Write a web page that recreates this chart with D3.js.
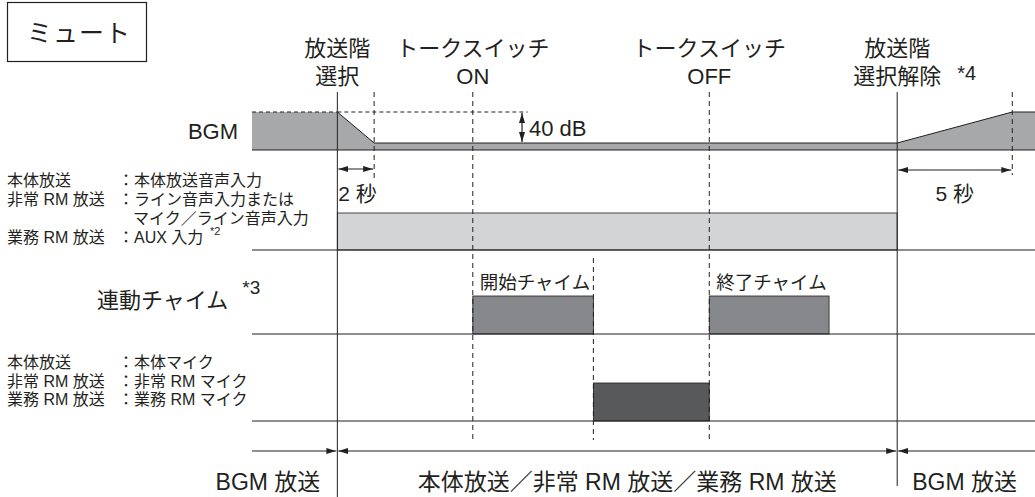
<!DOCTYPE html>
<html>
<head>
<meta charset="utf-8">
<script src="https://cdn.jsdelivr.net/npm/d3@7"></script>
<style>
  body { margin: 0; background: #fff; }
  svg text { font-family: "Liberation Sans", "Noto Sans CJK JP", sans-serif; fill: #231f20; }
</style>
</head>
<body>
<div id="chart"></div>
<script>
// timing points (arbitrary time units, 0..100 across the diagram)
var tSelect = 10.9, tFadeEnd = 15.6, tOn = 28.2, tStartChimeEnd = 43.6;
var tOff = 58.4, tEndChimeEnd = 73.7, tRelease = 82.4, tFadeUpEnd = 97.1;

// BGM level in dB
var bgmLevel = [
  { t: 0, db: 0 }, { t: tSelect, db: 0 }, { t: tFadeEnd, db: -40 },
  { t: tRelease, db: -40 }, { t: tFadeUpEnd, db: 0 }, { t: 100, db: 0 }
];
var inputSpan = [tSelect, tRelease];
var chimes = [
  { label: "開始チャイム", start: tOn, end: tStartChimeEnd },
  { label: "終了チャイム", start: tOff, end: tEndChimeEnd }
];
var micSpan = [tStartChimeEnd, tOff];

var inputLabels = [
  ["本体放送", "：本体放送音声入力"],
  ["非常 RM 放送", "：ライン音声入力または"],
  ["", "マイク／ライン音声入力"],
  ["業務 RM 放送", "：AUX 入力"]
];
var micLabels = [
  ["本体放送", "：本体マイク"],
  ["非常 RM 放送", "：非常 RM マイク"],
  ["業務 RM 放送", "：業務 RM マイク"]
];
var headings = [
  { t: tSelect, lines: ["放送階", "選択"] },
  { t: tOn, lines: ["トークスイッチ", "ON"] },
  { t: tOff, lines: ["トークスイッチ", "OFF"] },
  { t: tRelease, lines: ["放送階", "選択解除"], note: "*4" }
];
var phases = [
  { label: "BGM 放送", from: 0, to: tSelect },
  { label: "本体放送／非常 RM 放送／業務 RM 放送", from: tSelect, to: tRelease },
  { label: "BGM 放送", from: tRelease, to: 100 }
];

var W = 1035, H = 497;
var ink = "#231f20";
var svg = d3.select("#chart").append("svg").attr("width", W).attr("height", H);

var defs = svg.append("defs");
defs.append("marker").attr("id", "ah")
  .attr("viewBox", "0 0 10 6").attr("refX", 10).attr("refY", 3)
  .attr("markerWidth", 10).attr("markerHeight", 6).attr("markerUnits", "userSpaceOnUse")
  .attr("orient", "auto-start-reverse")
  .append("path").attr("d", "M0,0L10,3L0,6Z").attr("fill", ink);

var x = d3.scaleLinear().domain([0, 100]).range([252, 1035]);
var yBgm = d3.scaleLinear().domain([-49, 0]).range([150, 112]);
var rowBase = { bgm: 150, input: 250, chime: 334, mic: 421 };

// BGM area
var area = d3.area().x(d => x(d.t)).y0(yBgm(-49)).y1(d => yBgm(d.db));
svg.append("path").datum(bgmLevel).attr("d", area).attr("fill", "#a7a8aa");
var topLine = d3.line().x(d => x(d.t)).y(d => yBgm(d.db));
svg.append("path").datum(bgmLevel.slice(0, 2)).attr("d", topLine)
  .attr("fill", "none").attr("stroke", ink).attr("stroke-width", 1).attr("stroke-dasharray", "4,3");
svg.append("path").datum(bgmLevel.slice(1)).attr("d", topLine)
  .attr("fill", "none").attr("stroke", ink).attr("stroke-width", 1);
// 0 dB reference dashed
svg.append("line").attr("x1", x(tSelect)).attr("x2", x(35.2))
  .attr("y1", yBgm(0)).attr("y2", yBgm(0))
  .attr("stroke", ink).attr("stroke-dasharray", "4,3");

// input bar
svg.append("rect").attr("x", x(inputSpan[0])).attr("y", 213)
  .attr("width", x(inputSpan[1]) - x(inputSpan[0])).attr("height", rowBase.input - 213)
  .attr("fill", "#d3d4d6").attr("stroke", ink).attr("stroke-width", 0.8);

// chimes
svg.selectAll(".chime").data(chimes).enter().append("rect")
  .attr("x", d => x(d.start)).attr("y", 296)
  .attr("width", d => x(d.end) - x(d.start)).attr("height", rowBase.chime - 296)
  .attr("fill", "#87888b").attr("stroke", ink).attr("stroke-width", 0.8);
svg.selectAll(".chimeLabel").data(chimes).enter().append("text")
  .attr("x", d => x(d.start) + 7).attr("y", 289)
  .attr("font-size", 18.5).text(d => d.label);

// mic
svg.append("rect").attr("x", x(micSpan[0])).attr("y", 383)
  .attr("width", x(micSpan[1]) - x(micSpan[0])).attr("height", rowBase.mic - 383)
  .attr("fill", "#58595b").attr("stroke", ink).attr("stroke-width", 0.8);

// row lines
Object.values(rowBase).forEach(function(y) {
  svg.append("line").attr("x1", x(0)).attr("x2", x(100)).attr("y1", y).attr("y2", y)
    .attr("stroke", ink).attr("stroke-width", 1.2);
});

// solid verticals
svg.append("line").attr("x1", x(tSelect)).attr("x2", x(tSelect)).attr("y1", 92).attr("y2", 497)
  .attr("stroke", ink).attr("stroke-width", 1);
svg.append("line").attr("x1", x(tRelease)).attr("x2", x(tRelease)).attr("y1", 92).attr("y2", 486)
  .attr("stroke", ink).attr("stroke-width", 1);

// dashed verticals
var dashed = [
  { t: tFadeEnd, y1: 92, y2: 178 },
  { t: tOn, y1: 92, y2: 440 },
  { t: tStartChimeEnd, y1: 258, y2: 440 },
  { t: tOff, y1: 92, y2: 440 },
  { t: tFadeUpEnd, y1: 92, y2: 175 }
];
svg.selectAll(".dv").data(dashed).enter().append("line")
  .attr("x1", d => x(d.t)).attr("x2", d => x(d.t)).attr("y1", d => d.y1).attr("y2", d => d.y2)
  .attr("stroke", ink).attr("stroke-width", 1).attr("stroke-dasharray", "5,4");

function arrow(x1, y1, x2, y2, both) {
  var l = svg.append("line").attr("x1", x1).attr("y1", y1).attr("x2", x2).attr("y2", y2)
    .attr("stroke", ink).attr("stroke-width", 1.2).attr("marker-end", "url(#ah)");
  if (both) l.attr("marker-start", "url(#ah)");
}
arrow(x(tSelect) + 1, 169, x(tFadeEnd) - 1, 169, true);
arrow(x(tRelease) + 1, 170, x(tFadeUpEnd) - 1, 170, true);
arrow(522, yBgm(0) + 1, 522, yBgm(-40) - 1, true);

svg.append("text").attr("x", x(tSelect) + 1).attr("y", 201).attr("font-size", 21).text("2 秒");
svg.append("text").attr("x", (x(tRelease) + x(tFadeUpEnd)) / 2).attr("y", 201)
  .attr("text-anchor", "middle").attr("font-size", 21).text("5 秒");
svg.append("text").attr("x", 529).attr("y", 136).attr("font-size", 22).text("40 dB");

// phase arrows
svg.selectAll(".ph").data(phases).enter().each(function(d, i) {
  var a = x(d.from) + (i > 0 ? 1 : 0), b = x(d.to) - (i < 2 ? 1 : 0);
  var l = svg.append("line").attr("x1", a).attr("x2", b).attr("y1", 451).attr("y2", 451)
    .attr("stroke", ink).attr("stroke-width", 1.2);
  if (i < 2) l.attr("marker-end", "url(#ah)");
  if (i > 0) l.attr("marker-start", "url(#ah)");
});
svg.selectAll(".phl").data(phases).enter().append("text")
  .attr("x", (d, i) => i === 0 ? x(d.to) - 17 : i === 1 ? (x(d.from) + x(d.to)) / 2 + 10 : x(d.from) + 15)
  .attr("text-anchor", (d, i) => i === 0 ? "end" : i === 1 ? "middle" : "start")
  .attr("y", 490).attr("font-size", 23).text(d => d.label);

// headings
headings.forEach(function(h) {
  var g = svg.append("text").attr("text-anchor", "middle").attr("font-size", 22);
  h.lines.forEach(function(s, i) {
    g.append("tspan").attr("x", x(h.t)).attr("y", 56 + i * 28).text(s);
  });
  if (h.note) {
    svg.append("text").attr("x", x(h.t) + 60).attr("y", 80).attr("font-size", 20).text(h.note);
  }
});

// left labels
svg.append("text").attr("x", 238).attr("y", 139).attr("text-anchor", "end")
  .attr("font-size", 22).text("BGM");

function labelBlock(rows, y0, dy) {
  rows.forEach(function(r, i) {
    var y = y0 + i * dy;
    if (r[0]) svg.append("text").attr("x", 7).attr("y", y).attr("font-size", 16).text(r[0]);
    svg.append("text").attr("x", r[0] ? 118 : 133).attr("y", y).attr("font-size", 16).text(r[1]);
  });
}
labelBlock(inputLabels, 186, 19);
svg.append("text").attr("x", 210).attr("y", 235).attr("font-size", 11).text("*2");
labelBlock(micLabels, 368, 18.5);

var chimeTitle = svg.append("text").attr("x", 97).attr("y", 308).attr("font-size", 22);
chimeTitle.append("tspan").text("連動チャイム");
chimeTitle.append("tspan").attr("font-size", 19).attr("dx", 14).attr("dy", -14).text("*3");

// mute box
svg.append("rect").attr("x", 7.5).attr("y", 2.5).attr("width", 139).attr("height", 59)
  .attr("fill", "none").attr("stroke", ink).attr("stroke-width", 1.2);
svg.append("text").attr("x", 27).attr("y", 42).attr("font-size", 25)
  .attr("letter-spacing", 1).text("ミュート");
</script>
</body>
</html>
